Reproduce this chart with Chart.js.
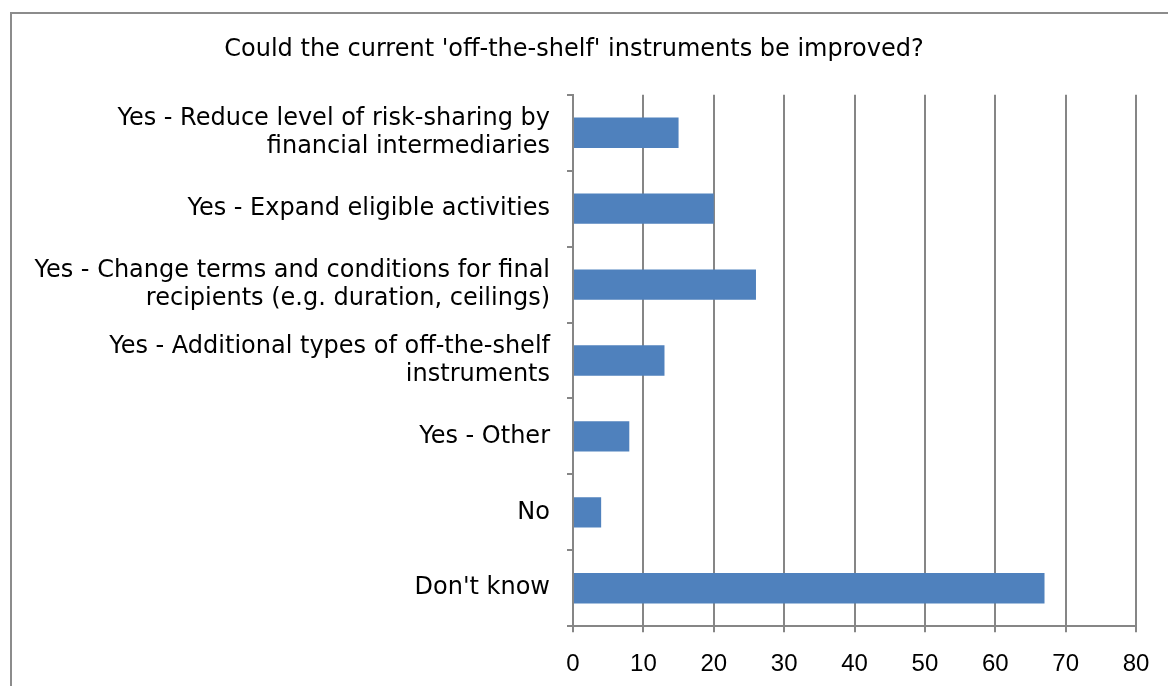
<!DOCTYPE html>
<html>
<head>
<meta charset="utf-8">
<script src="https://cdn.jsdelivr.net/npm/chart.js@4.4.0/dist/chart.umd.min.js"></script>
<style>
  html, body { margin: 0; padding: 0; background: #fff; overflow: hidden; }
  #frame {
    position: absolute; left: 10px; top: 12px;
    width: 1168px; height: 710px;
    border: 2px solid #8c8c8c;
  }
  #wrap { position: relative; width: 1168px; height: 692px; }
</style>
</head>
<body>
<div id="frame"><div id="wrap"><canvas id="chart"></canvas></div></div>
<script>
var categories = [
  ["Yes - Reduce level of risk-sharing by", "financial intermediaries"],
  "Yes - Expand eligible activities",
  ["Yes - Change terms and conditions for final", "recipients (e.g. duration, ceilings)"],
  ["Yes - Additional types of off-the-shelf", "instruments"],
  "Yes - Other",
  "No",
  "Don't know"
];
var values = [15, 20, 26, 13, 8, 4, 67];
var xTicks = [0, 10, 20, 30, 40, 50, 60, 70, 80];

var ctx = document.getElementById("chart").getContext("2d");
var barChart = new Chart(ctx, {
  type: "bar",
  data: {
    labels: categories,
    datasets: [
      {
        label: "",
        data: values,
        backgroundColor: "#4F81BD",
        categoryPercentage: 1,
        barPercentage: 0.4,
      },
    ],
  },
  options: {
    indexAxis: "y",
    responsive: true,
    maintainAspectRatio: false,
    animation: false,
    layout: {
      padding: { top: 0, right: 44, bottom: 9, left: 0 },
    },
    plugins: {
      legend: { display: false },
      tooltip: { enabled: false },
      title: {
        display: true,
        text: "Could the current 'off-the-shelf' instruments be improved?",
        color: "#000",
        font: { family: "DejaVu Sans", size: 24, weight: "normal" },
        padding: { top: 21, bottom: 31 },
      },
    },
    scales: {
      x: {
        min: 0,
        max: 80,
        afterBuildTicks: function (axis) {
          axis.ticks = xTicks.map(function (v) { return { value: v }; });
        },
        grid: {
          color: "#868686",
          lineWidth: 2,
          tickLength: 6,
        },
        border: { color: "#868686", width: 2 },
        ticks: {
          color: "#000",
          padding: 18,
          maxRotation: 0,
          font: { family: "Liberation Sans", size: 24 },
        },
      },
      y: {
        afterFit: function (axis) {
          axis.width = 561;
        },
        grid: {
          offset: true,
          drawOnChartArea: false,
          color: "#868686",
          lineWidth: 2,
          tickLength: 6,
        },
        border: { color: "#868686", width: 2 },
        ticks: {
          color: "#000",
          padding: 17,
          font: { family: "DejaVu Sans", size: 24, lineHeight: 1.15 },
        },
      },
    },
  },
});
</script>
</body>
</html>
